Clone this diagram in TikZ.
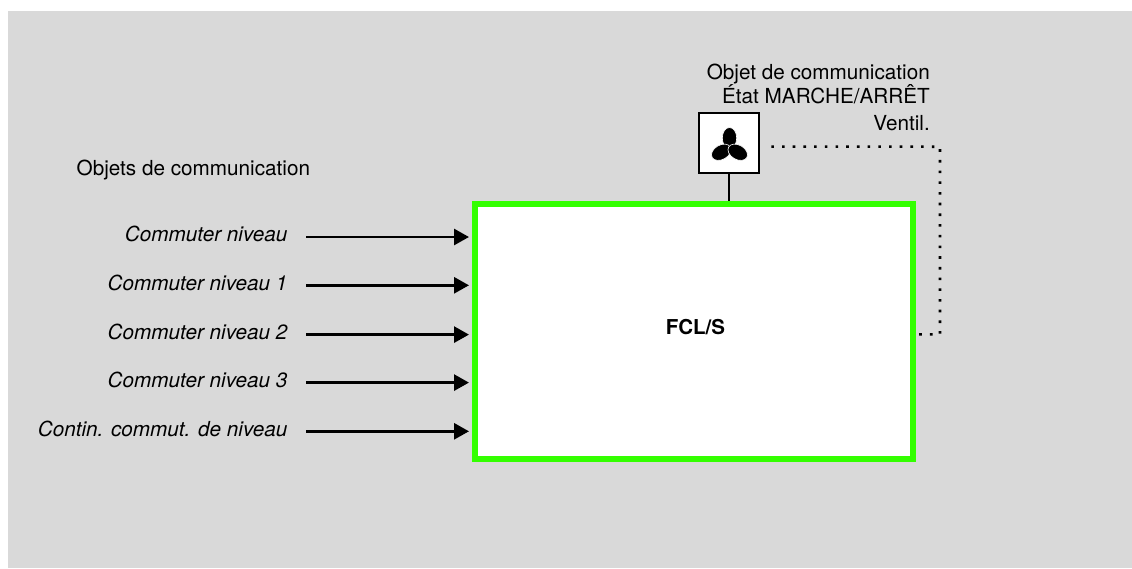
\documentclass[tikz,border=0pt]{standalone}
\usepackage{fontspec}
\setmainfont{TeX Gyre Heros}
\usetikzlibrary{arrows.meta,calc}
\definecolor{bggray}{RGB}{217,217,217}
\definecolor{fclgreen}{RGB}{51,255,0}
\begin{document}
\begin{tikzpicture}[x=1pt,y=-1pt,
  lbl/.style={font=\fontsize{20.7}{24}\selectfont, inner sep=0pt},
  inlbl/.style={font=\fontsize{20.7}{24}\selectfont\itshape, inner sep=0pt, anchor=base east},
  arr/.style={-{Triangle[length=15pt,width=16pt]}, line width=2.8pt, shorten >=3pt},
  dots/.style={line width=2.6pt, dash pattern=on 2.6pt off 8.1pt},
  lobe/.style={fill=black, draw=white, line width=0.6pt},
]
\useasboundingbox (0,0) rectangle (1132,568);
\fill[bggray] (8,11) rectangle (1132,568);

% main block
\node[draw=fclgreen, line width=6pt, fill=white, minimum width=437.7pt,
      minimum height=255pt, inner sep=0pt, anchor=north west] (fcl) at (472,201) {};
\node[font=\fontsize{20.5}{24}\selectfont\bfseries, inner sep=0pt, anchor=base]
      (fcltext) at (695.5,334.3) {FCL/S};

% fan object
\node[draw, line width=2pt, fill=white, minimum size=60pt, inner sep=0pt]
      (fan) at (728.65,143.35) {};
\coordinate (fanc) at (729.5,147.5);
\foreach \ang in {90,210,330}{
  \path[lobe, rotate around={\ang:(fanc)}] ($(fanc)+(9.5,0)$) ellipse [x radius=10.5pt, y radius=7.2pt];
}
\draw[line width=2pt] (fan.south) -- (fan.south |- fcl.north);

% dotted link
\coordinate (corner) at (940,146.7);
\draw[dots] ($(fcl.east)+(3.5,2.8)$) -| (corner) -- ($(fan.east)+(7,3.3)$);

% top-right labels
\node[lbl, anchor=base east] (t1) at (930,79) {Objet de communication};
\node[lbl, anchor=base east] (t2) at (930,103.3) {État MARCHE/ARRÊT};
\node[lbl, anchor=base east] (t3) at (930,130) {Ventil.};

% left title
\node[lbl, anchor=base west] (title) at (76.5,175) {Objets de communication};

% inputs
\foreach \i/\lab/\yy in {1/Commuter niveau/241.7, 2/Commuter niveau 1/290,
    3/Commuter niveau 2/339.3, 4/Commuter niveau 3/387.3,
    5/Contin. commut. de niveau/436}{
  \node[inlbl] (l\i) at (287.5,\yy) {\lab};
  \coordinate (s\i) at (306,\yy-4.7);
  \draw[arr] (s\i) -- (s\i -| fcl.west);
}
\end{tikzpicture}
\end{document}
